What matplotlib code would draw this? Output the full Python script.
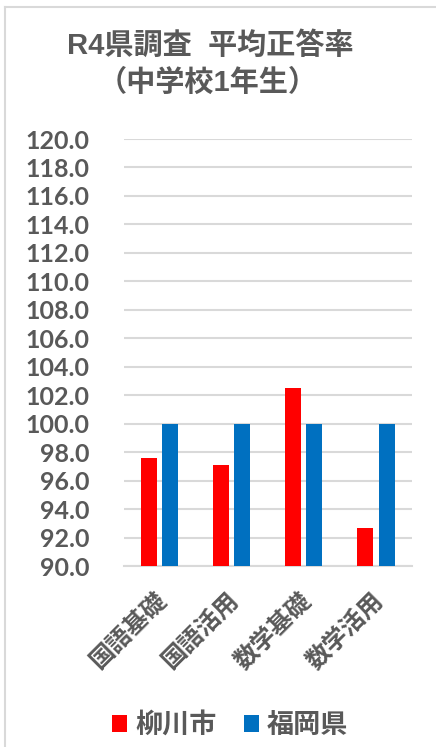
import matplotlib
matplotlib.use("Agg")
import matplotlib.pyplot as plt
import matplotlib.transforms as mtransforms
import numpy as np
from matplotlib.lines import Line2D
from matplotlib.patches import Patch

categories = ["国語基礎", "国語活用", "数学基礎", "数学活用"]
yanagawa = [97.6, 97.1, 102.5, 92.7]
fukuoka = [100.0, 100.0, 100.0, 100.0]
series_names = ["柳川市", "福岡県"]
yticks = [90, 92, 94, 96, 98, 100, 102, 104, 106, 108, 110, 112, 114, 116, 118, 120]

RED = "#FF0000"
BLUE = "#0070C0"
GRAY = "#595959"
GRID = "#D9D9D9"
CJK = ["Noto Sans CJK JP", "DejaVu Sans"]
TITLE_FONT = ["Liberation Sans", "Noto Sans CJK JP"]

fig = plt.figure(figsize=(4.36, 7.47), dpi=100)
ax = fig.add_axes([0.284, 0.2423, 0.661, 0.5716])

x = np.arange(len(categories))
w = 0.222
base = 90.0
ax.bar(x - 0.146, np.array(yanagawa) - base, w, bottom=base, color=RED, zorder=3)
ax.bar(x + 0.146, np.array(fukuoka) - base, w, bottom=base, color=BLUE, zorder=3)

ax.set_xlim(-0.5, len(categories) - 0.5)
ax.set_ylim(90, 120)
ax.set_yticks(yticks)
ax.set_yticklabels([f"{v:.1f}" for v in yticks], fontfamily="Lato",
                   fontweight="bold", fontsize=18, color=GRAY)
ax.yaxis.grid(True, color=GRID, linewidth=1.5, zorder=0)
ax.tick_params(axis="y", length=0, pad=25)
ax.tick_params(axis="x", length=0, pad=16)
ax.set_xticks(x)
ax.set_xticklabels(categories, rotation=45, ha="right", va="top",
                   rotation_mode="anchor", family=CJK, fontweight="bold",
                   fontsize=17.5, color=GRAY)
shift = mtransforms.ScaledTranslation(-5 / 100, 0, fig.dpi_scale_trans)
for lab in ax.get_xticklabels():
    lab.set_transform(lab.get_transform() + shift)
for s in ["top", "right", "left"]:
    ax.spines[s].set_visible(False)
ax.spines["bottom"].set_color(GRID)
ax.spines["bottom"].set_linewidth(1.5)

fig.text(0.482, 1 - 45 / 747, "R4県調査  平均正答率", ha="center", va="center",
         family=TITLE_FONT, fontweight="bold", fontsize=21, color=GRAY)
fig.text(0.476, 1 - 83 / 747, "（中学校1年生）", ha="center", va="center",
         family=TITLE_FONT, fontweight="bold", fontsize=21, color=GRAY)

handles = [Patch(facecolor=RED), Patch(facecolor=BLUE)]
fig.legend(handles, series_names, loc="center", bbox_to_anchor=(0.528, 1 - 725 / 747),
           ncol=2, frameon=False, handlelength=0.55, handleheight=0.55,
           handletextpad=0.3, columnspacing=1.0,
           prop={"family": CJK, "weight": "bold", "size": 19.5}, labelcolor=GRAY)

# chart frame (top and left edges)
fig.add_artist(Line2D([4.7 / 436, 4.7 / 436], [0, 1 - 7.3 / 747],
                      transform=fig.transFigure, color=GRID, linewidth=1.5))
fig.add_artist(Line2D([4.7 / 436, 1], [1 - 7.3 / 747, 1 - 7.3 / 747],
                      transform=fig.transFigure, color=GRID, linewidth=1.5))

fig.savefig("out.png", dpi=100, facecolor="white")
